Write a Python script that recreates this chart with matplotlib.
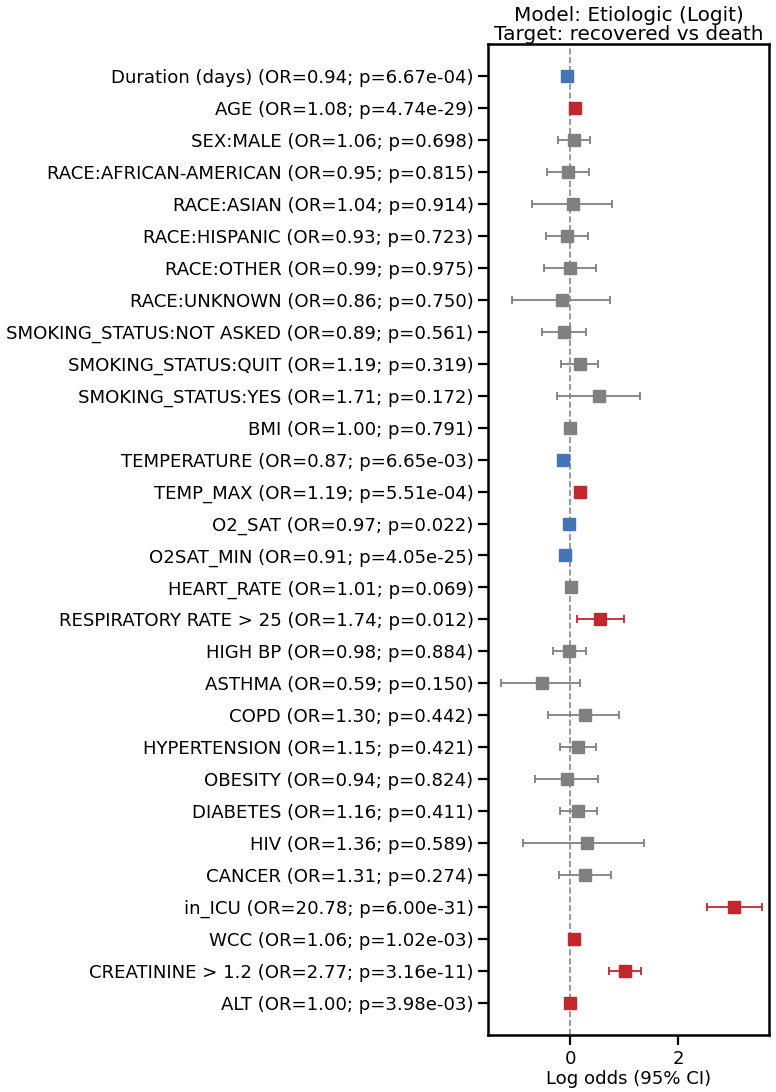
import numpy as np
import matplotlib
matplotlib.use('Agg')
import matplotlib.pyplot as plt

# variables, odds ratios, p-values and 95% CI (log odds)
names = ['Duration (days)', 'AGE', 'SEX:MALE', 'RACE:AFRICAN-AMERICAN', 'RACE:ASIAN',
         'RACE:HISPANIC', 'RACE:OTHER', 'RACE:UNKNOWN', 'SMOKING_STATUS:NOT ASKED',
         'SMOKING_STATUS:QUIT', 'SMOKING_STATUS:YES', 'BMI', 'TEMPERATURE', 'TEMP_MAX',
         'O2_SAT', 'O2SAT_MIN', 'HEART_RATE', 'RESPIRATORY RATE > 25', 'HIGH BP', 'ASTHMA',
         'COPD', 'HYPERTENSION', 'OBESITY', 'DIABETES', 'HIV', 'CANCER', 'in_ICU', 'WCC',
         'CREATININE > 1.2', 'ALT']
odds = [0.94, 1.08, 1.06, 0.95, 1.04, 0.93, 0.99, 0.86, 0.89, 1.19, 1.71, 1.00, 0.87, 1.19,
        0.97, 0.91, 1.01, 1.74, 0.98, 0.59, 1.30, 1.15, 0.94, 1.16, 1.36, 1.31, 20.78, 1.06,
        2.77, 1.00]
pvals = ['6.67e-04', '4.74e-29', '0.698', '0.815', '0.914', '0.723', '0.975', '0.750', '0.561',
         '0.319', '0.172', '0.791', '6.65e-03', '5.51e-04', '0.022', '4.05e-25', '0.069',
         '0.012', '0.884', '0.150', '0.442', '0.421', '0.824', '0.411', '0.589', '0.274',
         '6.00e-31', '1.02e-03', '3.16e-11', '3.98e-03']
ci_low = [-0.08, 0.06, -0.24, -0.43, -0.72, -0.46, -0.49, -1.09, -0.52, -0.17, -0.25, -0.01,
          -0.17, 0.14, -0.05, -0.11, -0.01, 0.12, -0.32, -1.29, -0.41, -0.20, -0.66, -0.20,
          -0.88, -0.22, 2.53, 0.04, 0.72, -0.01]
ci_high = [-0.04, 0.09, 0.37, 0.35, 0.77, 0.33, 0.47, 0.74, 0.28, 0.52, 1.29, 0.01,
           -0.11, 0.21, -0.01, -0.08, 0.03, 0.99, 0.28, 0.17, 0.91, 0.48, 0.51, 0.50,
           1.36, 0.75, 3.56, 0.08, 1.32, 0.01]
# effect direction as shown: 'up' = risk, 'down' = protective, 'ns' = not significant
effect = ['down', 'up', 'ns', 'ns', 'ns', 'ns', 'ns', 'ns', 'ns', 'ns', 'ns', 'ns', 'down', 'up',
          'down', 'down', 'ns', 'up', 'ns', 'ns', 'ns', 'ns', 'ns', 'ns', 'ns', 'ns', 'up', 'up',
          'up', 'up']

colors = {'down': '#4575b4', 'up': '#c1272d', 'ns': '#808080'}

log_or = np.log(odds)
ypos = np.arange(len(names))

fig = plt.figure(figsize=(7.76, 10.92), dpi=100)
ax = fig.add_axes([0.629, 0.0522, 0.362, 0.9075])

ax.axvline(0, color='#888888', linestyle='--', linewidth=1.2, zorder=1)

for i in range(len(names)):
    c = colors[effect[i]]
    xerr = [[log_or[i] - ci_low[i]], [ci_high[i] - log_or[i]]]
    ax.errorbar(log_or[i], ypos[i], xerr=xerr, fmt='s', color=c, ecolor=c,
                markersize=8.5, elinewidth=1.3, capsize=3, capthick=1.3, zorder=3)

labels = ['{} (OR={:.2f}; p={})'.format(n, o, p) for n, o, p in zip(names, odds, pvals)]
ax.set_yticks(ypos)
ax.set_yticklabels(labels, fontsize=13.1)
ax.set_ylim(len(names), -1)
ax.set_xlim(-1.53, 3.69)
ax.set_xticks([0, 2])
ax.tick_params(axis='x', labelsize=13.1, length=7, width=1.6)
ax.tick_params(axis='y', length=7, width=1.6)
for s in ax.spines.values():
    s.set_linewidth(1.8)
ax.set_xlabel('Log odds (95% CI)', fontsize=13.1, labelpad=2)
ax.set_title('Model: Etiologic (Logit)\nTarget: recovered vs death', fontsize=14.4,
             linespacing=1.0, pad=3)

fig.savefig('out.png', dpi=100)
